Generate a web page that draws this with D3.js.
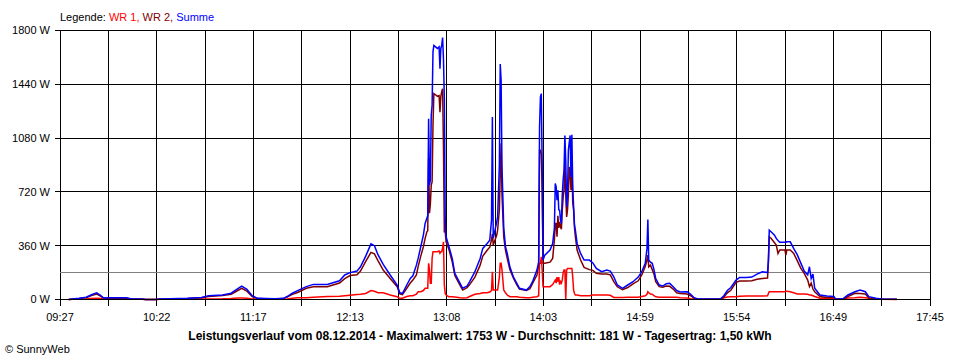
<!DOCTYPE html>
<html><head><meta charset="utf-8">
<script src="https://cdn.jsdelivr.net/npm/d3@7"></script>
<style>
body{margin:0;background:#fff;}
svg{display:block;}
text{font-family:"Liberation Sans",Arial,sans-serif;}
</style></head>
<body><svg id="c" width="960" height="360"></svg>
<script>
const times = ["09:32","09:34","09:38","09:42","09:45","09:48","09:50","09:52","09:55","10:05","10:08","10:14","10:16","10:22","10:24","10:30","10:40","10:48","10:52","11:00","11:05","11:09","11:11","11:14","11:17","11:20","11:30","11:35","11:37","11:40","11:43","11:48","11:52","12:00","12:07","12:10","12:13","12:17","12:19","12:22","12:25","12:27","12:29","12:32","12:36","12:40",
"12:41:30","12:43","12:45:30","12:47:30","12:49","12:51","12:52","12:53:30","12:55","12:56","12:57","12:57:30","12:58","12:58:30","12:59","12:59:30","13:00","13:00:30","13:01","13:02","13:03","13:04","13:04:30","13:05","13:05:30","13:06","13:06:30","13:07","13:07:30","13:08","13:09:30","13:11:30","13:13","13:16","13:17:30","13:20","13:21:30","13:24:30","13:27:30","13:29","13:31:30","13:33","13:34","13:34:30","13:35","13:37","13:37:30","13:38:30","13:39","13:39:30","13:40","13:41","13:42","13:43","13:44:30","13:46:30","13:48:30","13:50","13:54","13:56","13:57:30","14:00","14:01","14:01:30","14:02","14:02:30","14:03","14:03:30","14:04:30","14:07:30","14:09","14:10","14:10:30","14:11","14:11:30","14:12","14:12:30","14:13","14:13:30","14:14","14:14:30","14:15","14:15:30","14:16","14:16:30","14:17","14:17:30","14:18","14:18:30","14:19","14:19:30","14:20","14:20:30","14:21","14:21:30","14:22","14:23","14:25","14:27","14:30","14:32","14:34","14:37","14:40","14:42","14:44","14:46","14:49","14:52","14:55","14:58","15:00","15:02","15:03","15:03:30","15:04","15:05","15:06","15:07","15:08","15:10","15:12","15:14","15:16","15:18","15:20","15:22","15:26","15:28","15:30","15:32","15:45","15:47","15:49","15:51","15:54","15:56","16:00","16:03","16:06","16:09","16:12","16:12:30","16:13","16:14","16:16","16:17","16:18","16:19","16:22","16:22:30","16:23","16:25","16:27","16:29","16:31","16:33","16:35","16:36","16:37","16:38","16:39","16:42","16:46","16:50","16:51","16:55","16:58","17:02","17:05","17:08","17:10","17:14","17:18","17:26"];

const summe = [0,3,8,15,32,45,30,10,12,11,4,3,0,0,3,5,8,14,25,30,42,75,90,68,25,8,5,8,20,42,59,86,101,101,125,164,180,190,219,290,372,360,300,235,164,97,
45,40,97,141,159,230,275,353,431,509,543,560,1210,765,800,1232,1299,1657,1700,1690,1680,1690,1544,1680,1700,1753,1611,1343,543,420,360,275,175,108,75,90,119,186,275,342,375,397,531,1221,409,520,553,900,1575,1466,887,480,353,308,219,152,108,75,63,86,119,197,250,1152,1355,1378,887,264,297,331,375,480,776,753,664,731,600,597,530,509,700,800,865,1098,932,620,700,998,1050,1098,820,1102,750,620,500,464,375,308,264,264,245,208,186,197,190,152,97,75,97,119,150,186,242,342,535,264,250,242,200,140,97,90,105,108,85,60,50,52,35,12,3,3,25,60,80,130,148,148,150,170,186,180,264,464,453,431,409,395,383,383,383,386,386,340,300,245,190,164,219,140,170,75,30,23,20,3,3,30,52,63,52,19,8,2,2];

const wr2 = [0,2,6,12,26,37,24,8,10,9,3,2,0,0,2,4,6,11,20,26,35,62,75,56,20,6,4,6,16,34,47,75,86,86,110,140,160,165,190,255,315,305,260,197,141,86,
37,32,75,110,130,164,220,290,353,409,453,460,943,577,640,765,787,1165,1378,1370,1360,1365,1254,1360,1390,1410,1031,453,453,386,340,253,160,95,63,80,100,150,230,290,330,350,400,440,364,431,465,600,841,1045,700,420,331,275,200,145,97,70,60,72,108,164,230,998,998,975,731,242,242,250,275,400,509,509,420,560,480,520,487,470,600,680,731,932,709,553,600,700,887,850,731,932,650,597,480,420,331,264,215,200,195,175,170,170,165,120,85,65,80,105,125,164,220,264,297,219,230,200,170,120,86,82,90,88,70,45,40,37,25,8,2,2,15,45,62,115,123,123,125,135,141,144,250,420,410,380,364,308,331,331,297,331,331,308,260,210,175,130,86,110,70,52,20,13,13,2,2,20,41,40,37,10,5,1,1];

const wr1 = [0,1,2,3,6,9,6,2,2,2,1,1,0,0,1,1,2,3,4,5,7,10,10,9,4,2,1,2,4,8,12,12,15,20,22,25,28,33,35,40,60,55,45,45,30,19,
8,8,20,25,25,35,52,52,60,75,75,75,242,200,108,108,275,320,320,320,320,325,310,320,320,343,386,97,40,30,19,19,17,12,10,12,20,35,40,45,45,50,60,186,63,63,63,150,242,242,200,63,45,30,19,19,19,15,12,12,15,19,25,242,242,286,200,86,86,86,100,120,130,110,150,120,150,100,120,110,130,180,197,197,0,197,208,208,208,208,208,208,150,63,40,30,30,25,25,25,30,30,30,30,28,14,14,14,15,15,15,20,25,35,52,45,37,35,25,18,15,15,15,15,15,15,12,10,5,3,1,1,12,17,18,19,22,23,23,23,23,25,40,52,52,52,52,52,52,52,55,55,52,45,37,37,37,35,30,30,25,20,8,8,6,1,1,10,12,15,12,8,3,1,0];

const xLabels = ["09:27","10:22","11:17","12:13","13:08","14:03","14:59","15:54","16:49","17:45"];
const yTicks = [0,360,720,1080,1440,1800];
const avgValue = 181;
const titleText = "Leistungsverlauf vom 08.12.2014 - Maximalwert: 1753 W - Durchschnitt: 181 W - Tagesertrag: 1,50 kWh";

function toMin(s){const p=s.split(":").map(Number);return p[0]*60+p[1]+(p[2]||0)/60;}

const svg = d3.select("#c");
const L=60,R=930,T=30.5,B=299.5;
const x = d3.scaleLinear().domain([toMin("09:27"),toMin("17:45")]).range([L,R]);
const y = d3.scaleLinear().domain([0,1800]).range([B,T]);
const tickMins = d3.range(19).map(i=>toMin("09:27")+i*(toMin("17:45")-toMin("09:27"))/18);

// grid
const g = svg.append("g").attr("shape-rendering","crispEdges");
g.selectAll(".hg").data(yTicks).join("line").attr("x1",L-5).attr("x2",R).attr("y1",d=>y(d)).attr("y2",d=>y(d)).attr("stroke","#000");
g.selectAll(".vg").data(tickMins).join("line").attr("x1",d=>x(d)).attr("x2",d=>x(d)).attr("y1",T).attr("y2",B+6).attr("stroke","#000");

// y labels
svg.selectAll(".yl").data(yTicks).join("text").attr("x",L-10).attr("y",d=>y(d)).attr("dy","0.35em")
  .attr("text-anchor","end").attr("font-size",11).text(d=>d+" W");
// x labels
svg.selectAll(".xl").data(xLabels).join("text").attr("x",(d,i)=>x(tickMins[i*2])).attr("y",321)
  .attr("text-anchor","middle").attr("font-size",11).text(d=>d);

// average line
svg.append("line").attr("x1",L).attr("x2",R).attr("y1",y(avgValue)).attr("y2",y(avgValue))
  .attr("stroke","#808080").attr("shape-rendering","crispEdges");

const tm = times.map(toMin);
function drawLine(vals,color){
  const line = d3.line().x((d,i)=>x(tm[i])).y(d=>y(d));
  svg.append("path").datum(vals).attr("d",line).attr("fill","none").attr("stroke",color).attr("stroke-width",1.5).attr("stroke-linejoin","miter");
}
drawLine(wr1,"#ff0000");
drawLine(wr2,"#800000");
drawLine(summe,"#0000ff");

// redraw baseline axis over lines
svg.append("line").attr("x1",L-5).attr("x2",R).attr("y1",B).attr("y2",B).attr("stroke","#000").attr("shape-rendering","crispEdges");

// legend
const leg = svg.append("text").attr("x",L).attr("y",21).attr("font-size",11);
[["Legende: ","#000"],["WR 1, ","#ff0000"],["WR 2, ","#800000"],["Summe","#0000ff"]].forEach(p=>{
  leg.append("tspan").attr("fill",p[1]).text(p[0]);
});

svg.append("text").attr("x",480).attr("y",340).attr("text-anchor","middle").attr("font-size",12).attr("font-weight","bold").text(titleText);
svg.append("text").attr("x",5).attr("y",353).attr("font-size",11).text("© SunnyWeb");
</script></body></html>
